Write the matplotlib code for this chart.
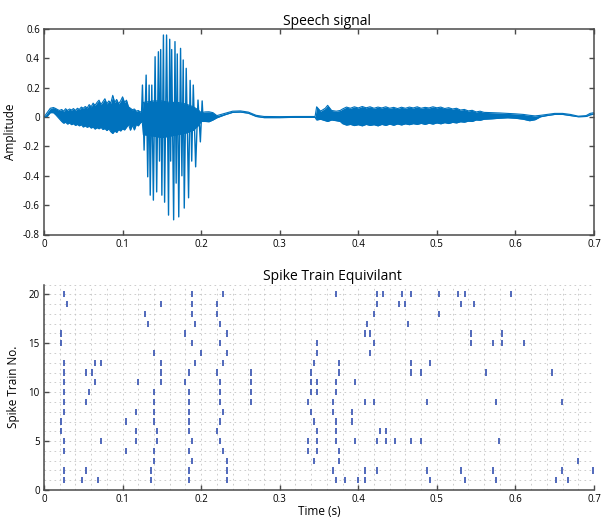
import numpy as np
import matplotlib
matplotlib.use("Agg")
import matplotlib.pyplot as plt

plt.rcParams["font.family"] = ["Open Sans", "DejaVu Sans"]

# ---------------------------------------------------------------- speech signal
# envelope of the noisy part (upper / lower edge)
env_t = [0.000, 0.004, 0.008, 0.012,
         0.0150, 0.0175, 0.0200, 0.0225, 0.0250, 0.0275, 0.0300, 0.0325, 0.0350, 0.0375,
         0.0400, 0.0425, 0.0450, 0.0475, 0.0500, 0.0525, 0.0550, 0.0575, 0.0600, 0.0625,
         0.0650, 0.0675, 0.0700, 0.0725, 0.0750, 0.0775, 0.0800, 0.0825, 0.0850, 0.0875,
         0.0900, 0.0925, 0.0950, 0.0975, 0.1000, 0.1025, 0.1050, 0.1075, 0.1100, 0.1125,
         0.1150, 0.1175, 0.1200, 0.1225, 0.1250,
         0.1265, 0.140, 0.150, 0.160, 0.170, 0.180, 0.190, 0.196, 0.200, 0.205,
         0.210, 0.215, 0.220, 0.230, 0.240, 0.250, 0.260, 0.270, 0.280, 0.300,
         0.320, 0.345, 0.347, 0.352, 0.358, 0.361, 0.366, 0.372, 0.377,
         0.380, 0.385, 0.390, 0.395, 0.400, 0.405, 0.410, 0.415, 0.420, 0.425,
         0.430, 0.435, 0.440, 0.445, 0.450, 0.455, 0.460, 0.465, 0.470, 0.475,
         0.480, 0.485, 0.490, 0.495, 0.500, 0.505, 0.510, 0.515, 0.520, 0.525,
         0.530, 0.535, 0.540, 0.545, 0.550, 0.555, 0.560,
         0.570, 0.580, 0.590, 0.600, 0.610, 0.618, 0.625, 0.632, 0.640, 0.650,
         0.660, 0.670, 0.680, 0.690, 0.695, 0.700]
env_hi = [0.000, 0.030, 0.060, 0.065,
          0.058, 0.050, 0.045, 0.052, 0.040, 0.057, 0.045, 0.055, 0.048, 0.058,
          0.045, 0.060, 0.052, 0.068, 0.060, 0.072, 0.062, 0.085, 0.070, 0.095,
          0.080, 0.100, 0.115, 0.085, 0.105, 0.125, 0.090, 0.110, 0.095, 0.148,
          0.100, 0.120, 0.090, 0.110, 0.138, 0.100, 0.115, 0.070, 0.060, 0.050,
          0.055, 0.040, 0.045, 0.035, 0.040,
          0.100, 0.110, 0.110, 0.100, 0.100, 0.090, 0.070, 0.050, 0.030, 0.035,
          0.036, 0.030, 0.010, 0.025, 0.040, 0.042, 0.034, 0.012, 0.004, 0.003,
          0.004, 0.004, 0.070, 0.040, 0.060, 0.080, 0.045, 0.040, 0.045,
          0.055, 0.068, 0.060, 0.070, 0.062, 0.072, 0.063, 0.070, 0.060, 0.068,
          0.062, 0.070, 0.060, 0.066, 0.058, 0.067, 0.060, 0.068, 0.062, 0.070,
          0.060, 0.066, 0.062, 0.070, 0.063, 0.068, 0.058, 0.064, 0.055, 0.060,
          0.048, 0.052, 0.042, 0.046, 0.035, 0.040, 0.032,
          0.030, 0.028, 0.025, 0.022, 0.018, 0.012, 0.008, 0.012, 0.018, 0.025,
          0.025, 0.018, 0.006, 0.010, 0.025, 0.030]
env_lo = [0.000, 0.005, 0.030, 0.030,
          0.015, 0.000, -0.015, -0.030, -0.042, -0.035, -0.048, -0.040, -0.052, -0.045,
          -0.057, -0.050, -0.060, -0.052, -0.068, -0.060, -0.070, -0.062, -0.075, -0.068,
          -0.082, -0.072, -0.080, -0.070, -0.085, -0.078, -0.092, -0.080, -0.100, -0.112,
          -0.095, -0.105, -0.085, -0.095, -0.080, -0.088, -0.070, -0.050, -0.090, -0.055,
          -0.088, -0.050, -0.060, -0.040, -0.030,
          -0.120, -0.130, -0.140, -0.130, -0.120, -0.110, -0.090, -0.060, -0.030, -0.030,
          -0.032, -0.020, -0.005, 0.015, 0.032, 0.034, 0.026, 0.004, -0.004, -0.004,
          -0.002, -0.002, -0.020, -0.015, -0.025, -0.030, -0.020, -0.025, -0.030,
          -0.045, -0.055, -0.050, -0.058, -0.052, -0.060, -0.050, -0.057, -0.052, -0.060,
          -0.050, -0.057, -0.048, -0.056, -0.047, -0.054, -0.046, -0.052, -0.045, -0.050,
          -0.043, -0.050, -0.042, -0.048, -0.040, -0.046, -0.038, -0.044, -0.036, -0.040,
          -0.032, -0.035, -0.028, -0.030, -0.020, -0.022, -0.015,
          -0.012, -0.008, -0.005, -0.008, -0.015, -0.025, -0.018, 0.002, 0.010, 0.018,
          0.018, 0.010, 0.002, 0.004, 0.015, 0.020]

# large voiced pulses between 0.125 s and 0.2 s
pulse_t = [0.1240, 0.1253, 0.1274, 0.1300, 0.1320, 0.1338, 0.1352, 0.1372, 0.1392,
           0.1414, 0.1434, 0.1456, 0.1470, 0.1485, 0.1500, 0.1520, 0.1535, 0.1560,
           0.1585, 0.1600, 0.1612, 0.1625, 0.1650, 0.1667, 0.1682, 0.1696, 0.1715,
           0.1738, 0.1755, 0.1772, 0.1785, 0.1810, 0.1840, 0.1860, 0.1880, 0.1900,
           0.1930, 0.1960, 0.1990, 0.2013, 0.2025, 0.2050]
pulse_amp = [0.000, 0.218, -0.225, 0.286, -0.407, 0.218, -0.532, 0.218, -0.566,
             0.411, -0.510, 0.445, -0.300, 0.460, -0.532, 0.559, -0.580, 0.559,
             -0.668, 0.530, -0.300, 0.460, -0.700, 0.514, -0.450, 0.430, -0.680,
             0.468, -0.400, 0.389, -0.620, 0.332, -0.550, 0.250, -0.300, 0.218,
             -0.339, 0.116, -0.169, 0.110, -0.020, 0.000]

# ---------------------------------------------------------------- spike raster
spike_times = [
    [0.025, 0.0487, 0.0686, 0.1365, 0.1843, 0.2325, 0.372, 0.3837, 0.400, 0.408, 0.4917, 0.5353, 0.5752, 0.651, 0.667],
    [0.025, 0.053, 0.1365, 0.1843, 0.2325, 0.3676, 0.408, 0.4235, 0.4875, 0.531, 0.5714, 0.659, 0.699],
    [0.140, 0.188, 0.2325, 0.344, 0.3757, 0.679],
    [0.025, 0.1046, 0.140, 0.1843, 0.228, 0.3358, 0.3477, 0.3757],
    [0.025, 0.0724, 0.1165, 0.1444, 0.188, 0.2245, 0.3358, 0.3477, 0.372, 0.396, 0.4235, 0.4354, 0.4473, 0.4676, 0.4794, 0.5794],
    [0.0212, 0.1165, 0.1444, 0.1843, 0.220, 0.3477, 0.372, 0.4273, 0.4354],
    [0.0212, 0.1046, 0.140, 0.1843, 0.2245, 0.344, 0.372, 0.3918],
    [0.025, 0.1165, 0.140, 0.1843, 0.228, 0.340, 0.3676, 0.3918],
    [0.025, 0.053, 0.140, 0.1843, 0.2245, 0.264, 0.3358, 0.3676, 0.408, 0.4195, 0.4875, 0.5752, 0.659],
    [0.025, 0.0568, 0.140, 0.1843, 0.2245, 0.264, 0.340, 0.3477, 0.372],
    [0.025, 0.0648, 0.120, 0.1487, 0.180, 0.2245, 0.264, 0.340, 0.3477, 0.372, 0.396],
    [0.025, 0.053, 0.0606, 0.1487, 0.1843, 0.220, 0.264, 0.340, 0.3757, 0.4676, 0.4794, 0.5629, 0.6468],
    [0.025, 0.0648, 0.0724, 0.1487, 0.192, 0.228, 0.344, 0.3757, 0.4676, 0.4917],
    [0.1406, 0.2004, 0.2325, 0.3477, 0.4155],
    [0.0212, 0.188, 0.2245, 0.3477, 0.4195, 0.5435, 0.5714, 0.5832, 0.6105],
    [0.0212, 0.180, 0.2325, 0.408, 0.4155, 0.5435, 0.5832],
    [0.132, 0.192, 0.2245, 0.4117, 0.4638],
    [0.128, 0.188, 0.220, 0.4195, 0.503],
    [0.0288, 0.1487, 0.188, 0.220, 0.4235, 0.4515, 0.4596, 0.531, 0.5473],
    [0.025, 0.188, 0.228, 0.372, 0.4235, 0.4316, 0.4553, 0.4676, 0.503, 0.527, 0.5353, 0.595],
]

time_ticks = [0, 0.1, 0.2, 0.3, 0.4, 0.5, 0.6, 0.7]
time_labels = ["0", "0.1", "0.2", "0.3", "0.4", "0.5", "0.6", "0.7"]
amp_ticks = [-0.8, -0.6, -0.4, -0.2, 0, 0.2, 0.4, 0.6]
amp_labels = ["-0.8", "-0.6", "-0.4", "-0.2", "0", "0.2", "0.4", "0.6"]
train_ticks = [0, 5, 10, 15, 20]

line_blue = "#0072BD"
spike_blue = "#3350b0"
axis_grey = "#4a4a4a"

fig = plt.figure(figsize=(6.01, 5.17), dpi=100)

# ---- top panel
ax1 = fig.add_axes([44 / 601, 1 - 234.5 / 517, 550 / 601, 205.5 / 517])
ax1.fill_between(env_t, env_lo, env_hi, color=line_blue, linewidth=0)
ax1.plot(env_t, env_hi, color=line_blue, lw=0.8)
ax1.plot(env_t, env_lo, color=line_blue, lw=0.8)
ax1.plot(pulse_t, pulse_amp, color=line_blue, lw=1.0)
ax1.set_xlim(0, 0.7)
ax1.set_ylim(-0.8, 0.6)
ax1.set_xticks(time_ticks, time_labels)
ax1.set_yticks(amp_ticks, amp_labels)
ax1.set_ylabel("Amplitude", fontsize=8.5, labelpad=4)
ax1.set_title("Speech signal", fontsize=10, x=0.514, pad=3)
ax1.tick_params(direction="in", top=True, right=True, length=3.5, width=1,
                color=axis_grey, labelsize=7, pad=3)
for s in ax1.spines.values():
    s.set_color(axis_grey)
    s.set_linewidth(1.1)

# ---- bottom panel
ax2 = fig.add_axes([44 / 601, 1 - 490 / 517, 550 / 601, 205.5 / 517])
for i, times in enumerate(spike_times):
    row = i + 1
    ax2.vlines(times, row - 0.32, row + 0.32, color=spike_blue, lw=1.2)
ax2.set_xlim(0, 0.7)
ax2.set_ylim(0, 21)
ax2.set_xticks(time_ticks, time_labels)
ax2.set_xticks(np.arange(0, 0.7001, 0.02), minor=True)
ax2.set_yticks(train_ticks)
ax2.set_yticks(np.arange(1, 22), minor=True)
ax2.grid(which="both", color="#c4c4c4", linestyle=(0, (2, 4)), linewidth=0.6)
ax2.set_axisbelow(True)
ax2.set_xlabel("Time (s)", fontsize=8.5, labelpad=0)
ax2.set_ylabel("Spike Train No.", fontsize=8.5, labelpad=6)
ax2.set_title("Spike Train Equivilant", fontsize=10, x=0.524, pad=3)
ax2.tick_params(which="major", direction="in", length=3.5, width=1,
                color=axis_grey, labelsize=7, pad=3)
ax2.tick_params(which="minor", length=0)
ax2.spines["top"].set_visible(False)
ax2.spines["right"].set_visible(False)
for side in ["left", "bottom"]:
    ax2.spines[side].set_color(axis_grey)
    ax2.spines[side].set_linewidth(1.1)

fig.savefig("out.png", dpi=100)
